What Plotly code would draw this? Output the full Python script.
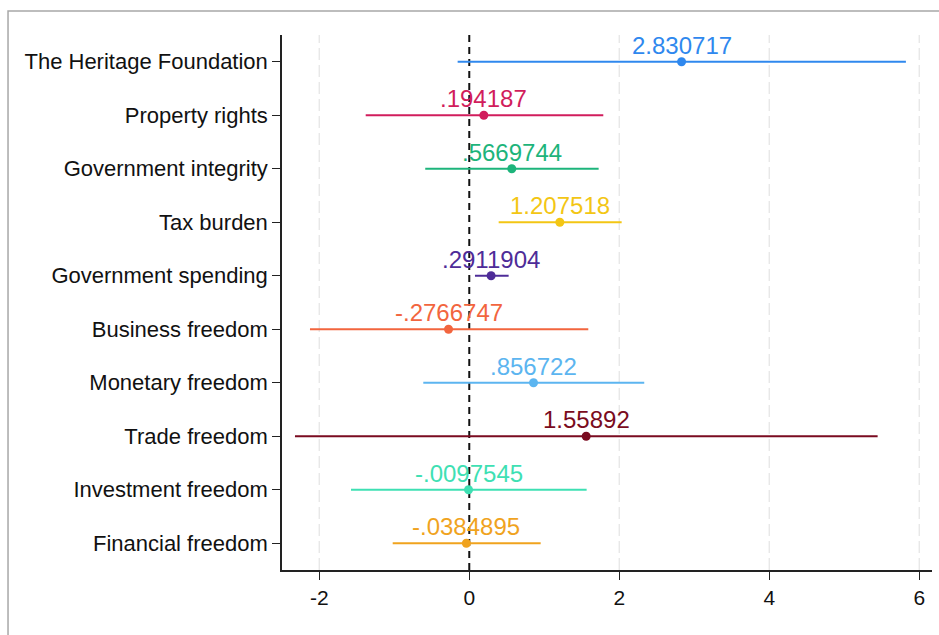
import re
import plotly.graph_objects as go

# Coefficient estimates with 95% confidence intervals
names = [
    "The Heritage Foundation", "Property rights", "Government integrity",
    "Tax burden", "Government spending", "Business freedom",
    "Monetary freedom", "Trade freedom", "Investment freedom", "Financial freedom",
]
coef = [2.830717, 0.194187, 0.5669744, 1.207518, 0.2911904,
        -0.2766747, 0.856722, 1.55892, -0.0097545, -0.0384895]
ci_low = [-0.155, -1.381, -0.587, 0.392, 0.076, -2.124, -0.613, -2.324, -1.577, -1.021]
ci_high = [5.822, 1.787, 1.725, 2.032, 0.525, 1.587, 2.333, 5.445, 1.565, 0.952]
colors = ["#2f88ee", "#d11d5c", "#1db47b", "#f3c614", "#4e2c98",
          "#f2653e", "#5cb5f0", "#7a0b20", "#3ee0b3", "#f0a31e"]
x_ticks = [-2, 0, 2, 4, 6]

FONT = "Liberation Sans, Arial, sans-serif"


def stata_fmt(v):
    s = f"{v:.7g}"
    return re.sub(r"^(-?)0\.", r"\1.", s)


fig = go.Figure()
annotations = []
for i, (n, c, lo, hi, col) in enumerate(zip(names, coef, ci_low, ci_high, colors)):
    fig.add_trace(go.Scatter(
        x=[lo, hi], y=[i, i], mode="lines",
        line=dict(color=col, width=2), showlegend=False, hoverinfo="skip",
    ))
    fig.add_trace(go.Scatter(
        x=[c], y=[i], mode="markers",
        marker=dict(color=col, size=9), showlegend=False, name=n,
    ))
    annotations.append(dict(
        x=c, y=i, xref="x", yref="y", text=stata_fmt(c), showarrow=False,
        xanchor="center", yanchor="bottom", yshift=1,
        font=dict(family=FONT, size=24, color=col),
    ))

# Light dashed grid lines at the non-zero ticks
for t in x_ticks:
    if t != 0:
        fig.add_shape(type="line", x0=t, x1=t, y0=0, y1=1, xref="x", yref="paper",
                      line=dict(color="#e6e6e6", width=1.3, dash="12px,5px"),
                      layer="below")

# Reference line at zero
fig.add_shape(type="line", x0=0, x1=0, y0=0, y1=1, xref="x", yref="paper",
              line=dict(color="#111111", width=2, dash="7px,5px"), layer="below")

# Outer frame
fig.add_shape(type="rect", x0=-0.4215, x1=1.6, y0=1.0449, y1=-0.5,
              xref="paper", yref="paper",
              line=dict(color="#a8a8a8", width=1.5), layer="below")

fig.update_layout(
    width=939, height=635,
    margin=dict(l=282, r=7, t=35, b=65),
    paper_bgcolor="white", plot_bgcolor="white",
    font=dict(family=FONT, color="#111111"),
    annotations=annotations,
    showlegend=False,
)
fig.update_xaxes(
    range=[-2.497, 6.17], tickvals=x_ticks, ticktext=[str(t) for t in x_ticks],
    showgrid=False, zeroline=False, showline=True, linecolor="#222222", linewidth=1.5,
    ticks="outside", ticklen=8, tickwidth=1.3, tickcolor="#222222",
    tickfont=dict(family=FONT, size=21, color="#111111"),
)
fig.update_yaxes(
    range=[9.5, -0.5], tickvals=list(range(len(names))), ticktext=names,
    showgrid=False, zeroline=False, showline=True, linecolor="#222222", linewidth=1.5,
    ticks="outside", ticklen=8, tickwidth=1.3, tickcolor="#222222",
    tickfont=dict(family=FONT, size=22, color="#111111"),
)

fig.write_html("out.html")
